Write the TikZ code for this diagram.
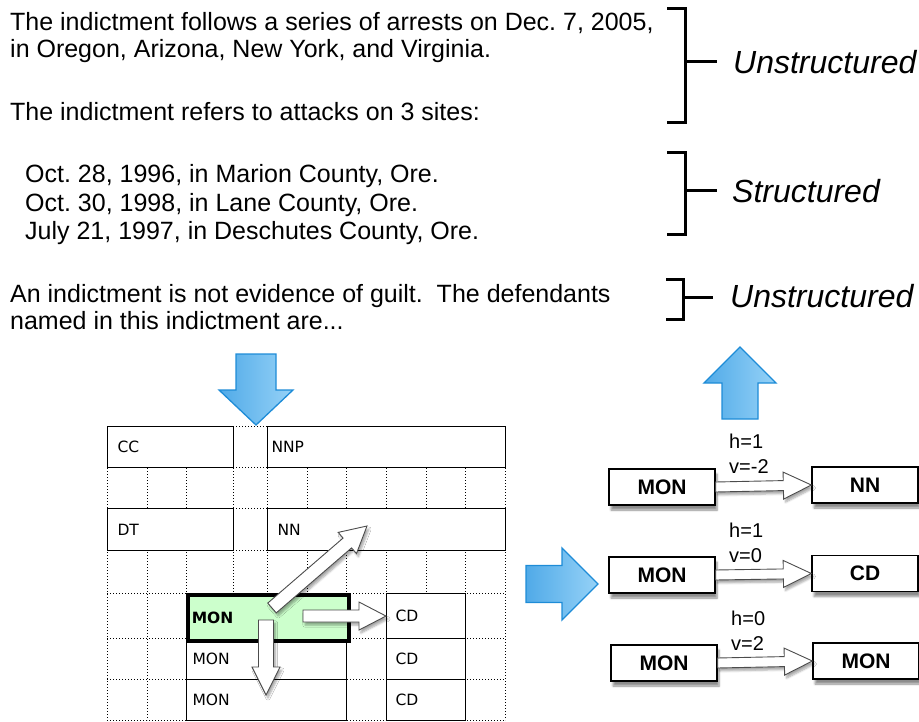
\documentclass[tikz,border=0pt]{standalone}
\usepackage{fontspec}
\setmainfont{Liberation Sans}
\newfontfamily\gridfont{DejaVu Sans}
\usetikzlibrary{calc,shadows,shadows.blur}
\definecolor{blueA}{RGB}{80,170,232}
\definecolor{blueB}{RGB}{150,210,247}
\definecolor{blueEdge}{RGB}{30,140,215}
\definecolor{hl}{RGB}{204,255,204}
\newcommand\blockarr[6]{%
  \path (#1) coordinate (ba-s) (#2) coordinate (ba-t);
  \path ($(ba-t)!#5!(ba-s)$) coordinate (ba-h);
  \draw[#6] ($(ba-s)!#3!90:(ba-t)$) -- ($(ba-h)!#3!90:(ba-t)$) -- ($(ba-h)!#4!90:(ba-t)$) -- (ba-t) -- ($(ba-h)!#4!-90:(ba-t)$) -- ($(ba-h)!#3!-90:(ba-t)$) -- ($(ba-s)!#3!-90:(ba-t)$) -- cycle;
}
\tikzset{
 txt/.style={anchor=base west, inner sep=0pt, font=\fontsize{25}{28}\selectfont},
 lab/.style={anchor=base west, inner sep=0pt, font=\fontsize{32}{36}\selectfont\itshape},
 brk/.style={line width=3pt},
 gline/.style={dash pattern=on 1pt off 2pt, line width=1pt, black},
 gbox/.style={draw, line width=1.1pt, fill=white, anchor=north west, inner ysep=0pt, align=left, font=\gridfont\fontsize{15.5}{17}\selectfont},
 rbox/.style={draw, line width=1.3pt, fill=white, minimum width=106pt, minimum height=36pt, inner sep=0pt, font=\bfseries\fontsize{21}{24}\selectfont, blur shadow={shadow xshift=2pt, shadow yshift=-5pt, shadow blur steps=6, shadow opacity=45}},
 warrow/.style={draw=black!70, line width=0.9pt, fill=white, line join=miter, blur shadow={shadow xshift=2pt, shadow yshift=-3pt, shadow blur steps=5, shadow opacity=35}},
 barrow/.style={draw=blueEdge, line width=1.3pt, left color=blueA, right color=blueB, line join=miter},
 hv/.style={anchor=base west, inner sep=0pt, font=\fontsize{20}{22}\selectfont},
}
\begin{document}
\frenchspacing
\begin{tikzpicture}[x=1pt,y=-1pt]
\path[use as bounding box] (0,0) rectangle (919,722);
% texts
\node[txt] (t1) at (10,31) {The indictment follows a series of arrests on Dec. 7, 2005,};
\node[txt] (t2) at (10,58) {in Oregon, Arizona, New York, and Virginia.};
\node[txt] (t3) at (10,121) {The indictment refers to attacks on 3 sites:};
\node[txt] (s1) at (25,183) {Oct. 28, 1996, in Marion County, Ore.};
\node[txt] (s2) at (25,212) {Oct. 30, 1998, in Lane County, Ore.};
\node[txt] (s3) at (25,240) {July 21, 1997, in Deschutes County, Ore.};
\node[txt] (u1) at (10,302) {An indictment is not evidence of guilt.\ \ The defendants};
\node[txt] (u2) at (10,330) {named in this indictment are...};
% brackets
\draw[brk] (667,9) -- (685,9) -- (685,123) -- (667,123);
\draw[brk] (685,62) -- (717,62);
\node[lab] (l1) at (733,74) {Unstructured};
\draw[brk] (667,153) -- (685,153) -- (685,235) -- (667,235);
\draw[brk] (685,191) -- (717,191);
\node[lab] (l2) at (732,203) {Structured};
\draw[brk] (666,280) -- (683,280) -- (683,320) -- (666,320);
\draw[brk] (683,298) -- (713,298);
\node[lab] (l3) at (730,308) {Unstructured};
% grid
\foreach \yy in {426,467,508,550,593,638,679,720}
  \draw[gline] (107,\yy) -- (505,\yy);
\foreach \xx in {107,147,186,233,267,307,346,386,426,465,505}
  \draw[gline] (\xx,426) -- (\xx,720);
\node[gbox, minimum height=41pt, inner xsep=10pt, text width=106pt] (cc) at (107,426) {CC};
\node[gbox, minimum height=41pt, inner xsep=4pt, text width=230pt] (nnp) at (267,426) {NNP};
\node[gbox, minimum height=42pt, inner xsep=10pt, text width=106pt] (dt) at (107,508) {DT};
\node[gbox, minimum height=42pt, inner xsep=10pt, text width=218pt] (nnb) at (267,508) {NN};
\node[gbox, minimum height=41pt, inner xsep=6pt, text width=148pt] (mon2) at (186,638) {MON};
\node[gbox, minimum height=41pt, inner xsep=6pt, text width=148pt] (mon3) at (186,679) {MON};
\node[gbox, minimum height=45pt, inner xsep=9pt, text width=61pt] (cd1) at (386,593) {CD};
\node[gbox, minimum height=41pt, inner xsep=9pt, text width=61pt] (cd2) at (386,638) {CD};
\node[gbox, minimum height=41pt, inner xsep=9pt, text width=61pt] (cd3) at (386,679) {CD};
\node[gbox, line width=3.5pt, fill=hl, minimum height=46pt, inner xsep=4pt, text width=153pt, font=\gridfont\bfseries\fontsize{15.5}{17}\selectfont] (mon1) at (186,593) {MON};
% grid arrows
\coordinate (dgS) at (272,608);
\coordinate (dgT) at (367,526);
\coordinate (rtS) at (303,616);
\coordinate (dnS) at (266,620);
\coordinate (dnT) at (266,695);
\blockarr{dgS}{dgT}{6.5pt}{14pt}{26pt}{warrow}
\blockarr{rtS}{cd1.west}{6pt}{14pt}{27pt}{warrow}
\blockarr{dnS}{dnT}{7.5pt}{14pt}{28pt}{warrow}
% blue arrows
\coordinate (bdS) at (256,354);
\coordinate (bdT) at (256,425);
\coordinate (buS) at (740,419);
\coordinate (buT) at (740,347);
\coordinate (brS) at (526,584);
\coordinate (brT) at (598,584);
\blockarr{bdS}{bdT}{20pt}{37pt}{35pt}{barrow}
\blockarr{buS}{buT}{18pt}{36pt}{36pt}{barrow}
\blockarr{brS}{brT}{18.5pt}{36pt}{36pt}{barrow}
% right boxes
\node[rbox] (ra1) at (662,487) {MON};
\node[rbox] (rb1) at (865,485) {NN};
\node[rbox] (ra2) at (662,575) {MON};
\node[rbox] (rb2) at (865,573.5) {CD};
\node[rbox] (ra3) at (664,663) {MON};
\node[rbox] (rb3) at (866,661) {MON};
\blockarr{ra1.east}{rb1.west}{5pt}{13.5pt}{28pt}{warrow}
\blockarr{ra2.east}{rb2.west}{5pt}{13.5pt}{28pt}{warrow}
\blockarr{ra3.east}{rb3.west}{5pt}{13.5pt}{28pt}{warrow}
\node[hv] (h1) at (729,448) {h=1};
\node[hv] (v1) at (729,473) {v=-2};
\node[hv] (h2) at (729,537) {h=1};
\node[hv] (v2) at (729,562) {v=0};
\node[hv] (h3) at (731,625) {h=0};
\node[hv] (v3) at (731,650) {v=2};
\end{tikzpicture}
\end{document}
